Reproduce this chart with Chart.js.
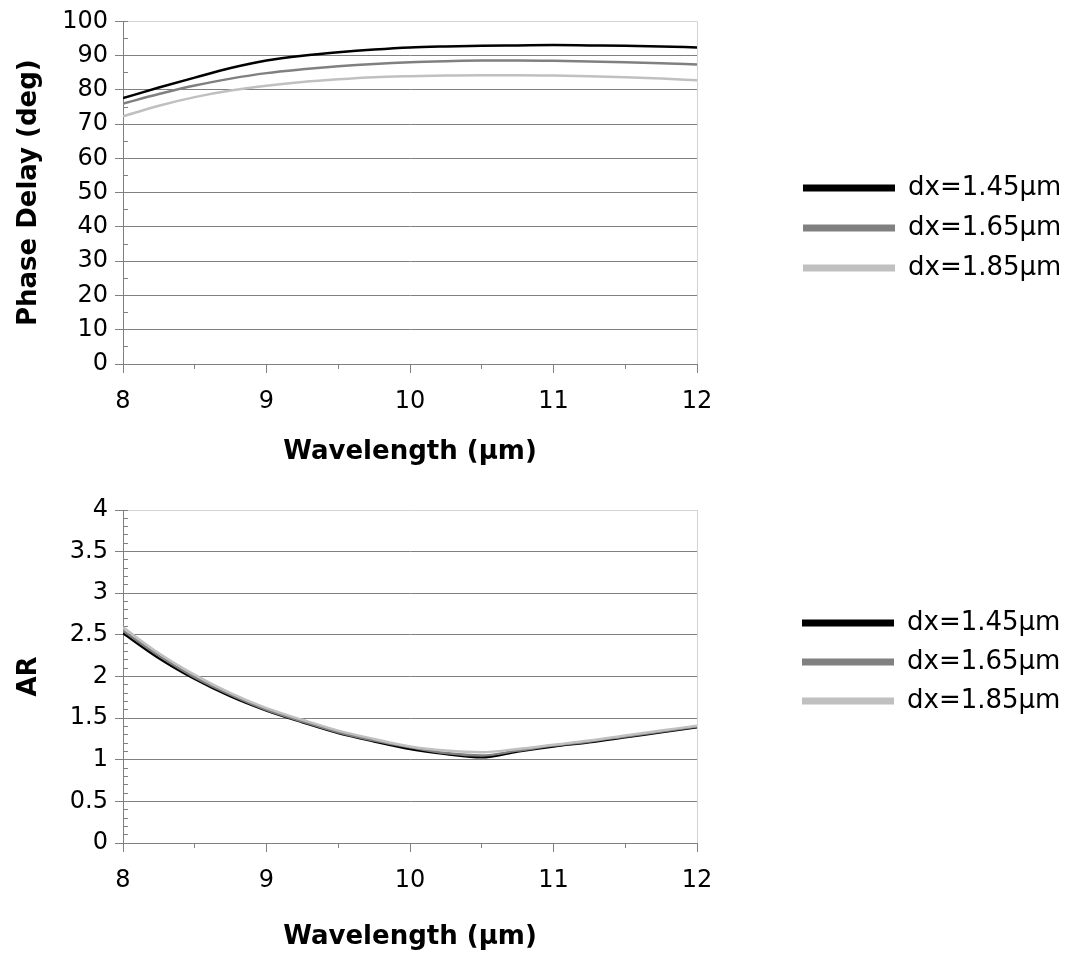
<!DOCTYPE html>
<html>
<head>
<meta charset="utf-8">
<script src="https://cdn.jsdelivr.net/npm/chart.js@4.4.1/dist/chart.umd.min.js"></script>
<style>
html,body{margin:0;padding:0;background:#fff;}
#c1{position:absolute;left:0;top:0;width:1078px;height:480px;}
#c2{position:absolute;left:0;top:480px;width:1078px;height:476px;}
</style>
</head>
<body>
<div id="c1"><canvas id="topChart"></canvas></div>
<div id="c2"><canvas id="botChart"></canvas></div>
<script>
// ---- data ----
const wavelength = [8, 8.25, 8.5, 8.75, 9, 9.25, 9.5, 9.75, 10, 10.25, 10.5, 10.75, 11, 11.25, 11.5, 11.75, 12];
const seriesLabels = ['dx=1.45µm', 'dx=1.65µm', 'dx=1.85µm'];

const phase145 = [77.6, 80.7, 83.6, 86.4, 88.6, 90.0, 91.0, 91.8, 92.4, 92.7, 92.9, 93.0, 93.1, 93.0, 92.9, 92.7, 92.4];
const phase165 = [76.0, 78.8, 81.3, 83.3, 84.9, 86.0, 86.9, 87.6, 88.1, 88.4, 88.6, 88.6, 88.5, 88.3, 88.1, 87.8, 87.4];
const phase185 = [72.3, 75.4, 77.9, 79.8, 81.2, 82.3, 83.1, 83.7, 84.0, 84.2, 84.3, 84.3, 84.2, 84.0, 83.7, 83.3, 82.8];

const ar145 = [2.52, 2.22, 1.97, 1.76, 1.59, 1.45, 1.32, 1.22, 1.13, 1.07, 1.03, 1.10, 1.16, 1.21, 1.27, 1.33, 1.39];
const ar165 = [2.55, 2.25, 1.99, 1.78, 1.60, 1.46, 1.33, 1.23, 1.15, 1.08, 1.05, 1.11, 1.17, 1.22, 1.28, 1.34, 1.40];
const ar185 = [2.59, 2.28, 2.02, 1.80, 1.62, 1.48, 1.35, 1.25, 1.16, 1.11, 1.09, 1.13, 1.18, 1.23, 1.29, 1.35, 1.41];

const xMajorTicks = [8, 9, 10, 11, 12];
const xMinorTicks = [8, 8.5, 9, 9.5, 10, 10.5, 11, 11.5, 12];
const phaseMajorTicks = [0, 10, 20, 30, 40, 50, 60, 70, 80, 90, 100];
const phaseMinorTicks = [0, 5, 10, 15, 20, 25, 30, 35, 40, 45, 50, 55, 60, 65, 70, 75, 80, 85, 90, 95, 100];
const arMajorTicks = [0, 0.5, 1, 1.5, 2, 2.5, 3, 3.5, 4];
const arMinorTicks = [0, 0.1, 0.2, 0.3, 0.4, 0.5, 0.6, 0.7, 0.8, 0.9, 1, 1.1, 1.2, 1.3, 1.4, 1.5, 1.6, 1.7, 1.8, 1.9, 2,
  2.1, 2.2, 2.3, 2.4, 2.5, 2.6, 2.7, 2.8, 2.9, 3, 3.1, 3.2, 3.3, 3.4, 3.5, 3.6, 3.7, 3.8, 3.9, 4];

// ---- styling ----
const FONT = 'DejaVu Sans';
Chart.defaults.font.family = FONT;
Chart.defaults.color = '#000';
const lineColors = ['#000000', '#808080', '#c0c0c0'];
const axisGrey = '#808080';
const borderGrey = '#d4d4d4';

function makeChart(id, o) {
  const datasets = o.series.map((vals, i) => ({
    label: seriesLabels[i],
    data: wavelength.map((w, j) => ({x: w, y: vals[j]})),
    borderColor: lineColors[i],
    backgroundColor: lineColors[i],
    borderWidth: 2.5,
    pointRadius: 0,
    cubicInterpolationMode: 'monotone',
    order: 3 - i
  }));
  return new Chart(document.getElementById(id), {
    type: 'line',
    data: {datasets},
    options: {
      responsive: true,
      maintainAspectRatio: false,
      animation: false,
      events: [],
      layout: {padding: {top: o.padTop, right: 19, bottom: 0, left: 0}},
      plugins: {
        tooltip: {enabled: false},
        legend: {
          position: 'right',
          align: 'start',
          maxWidth: 270,
          title: {display: true, text: '', padding: {top: o.legendTitleH - 10, bottom: 0}, font: {size: 10, lineHeight: 1}},
          labels: {
            boxWidth: 92,
            boxHeight: 7,
            padding: o.legendPad,
            font: {size: 26},
            color: '#000',
            generateLabels: chart => chart.data.datasets.map((d, i) => ({
              text: d.label, fillStyle: d.borderColor, strokeStyle: d.borderColor,
              lineWidth: 0, hidden: false, datasetIndex: i, fontColor: '#000'
            }))
          }
        }
      },
      scales: {
        x: {
          type: 'linear', min: 8, max: 12,
          afterBuildTicks: s => { s.ticks = xMajorTicks.map(v => ({value: v})); },
          ticks: {font: {size: 24}, color: '#000', padding: 14, maxRotation: 0, autoSkip: false,
                  callback: v => String(v)},
          grid: {
            color: c => (c.tick && c.tick.value === 12) ? borderGrey : 'rgba(0,0,0,0)',
            tickColor: axisGrey, tickLength: 9, drawTicks: true
          },
          border: {display: true, color: axisGrey, width: 1},
          title: {display: true, text: 'Wavelength (µm)', font: {size: 26, weight: 'bold'}, color: '#000',
                  padding: {top: 0, bottom: o.xTitlePad}},
          afterFit: s => { s.height = o.xHeight; }
        },
        xMinor: {
          type: 'linear', axis: 'x', position: {y: o.yMin}, min: 8, max: 12,
          afterBuildTicks: s => { s.ticks = xMinorTicks.map(v => ({value: v})); },
          ticks: {display: false},
          grid: {drawOnChartArea: false, drawTicks: true, tickLength: 5, color: axisGrey},
          border: {display: false}
        },
        y: {
          type: 'linear', position: 'left', min: o.yMin, max: o.yMax,
          afterBuildTicks: s => { s.ticks = o.major.map(v => ({value: v})); },
          ticks: {font: {size: 24}, color: '#000', padding: 7, callback: v => String(v)},
          grid: {
            color: c => (c.tick && c.tick.value === o.yMax) ? borderGrey : axisGrey,
            tickColor: axisGrey, tickLength: 8
          },
          border: {display: true, color: axisGrey, width: 1},
          title: {display: true, text: o.yTitle, font: {size: 26, weight: 'bold'}, color: '#000',
                  padding: {top: 14, bottom: 0}},
          afterFit: s => { s.width = 123; }
        },
        yMinor: {
          type: 'linear', axis: 'y', position: {x: 8 + 5 / 143.5}, min: o.yMin, max: o.yMax,
          afterBuildTicks: s => { s.ticks = o.minor.map(v => ({value: v})); },
          ticks: {display: false},
          grid: {drawOnChartArea: false, drawTicks: true, tickLength: 5, color: axisGrey},
          border: {display: false}
        },
        yR: {
          type: 'linear', position: 'right', min: 0, max: 1,
          ticks: {display: false}, grid: {display: false}, border: {display: false},
          afterFit: s => { s.width = 92; }
        }
      }
    }
  });
}

makeChart('topChart', {
  series: [phase145, phase165, phase185],
  yMin: 0, yMax: 100, major: phaseMajorTicks, minor: phaseMinorTicks,
  yTitle: 'Phase Delay (deg)',
  padTop: 20, xHeight: 116, xTitlePad: 12,
  legendTitleH: 141, legendPad: 14
});

makeChart('botChart', {
  series: [ar145, ar165, ar185],
  yMin: 0, yMax: 4, major: arMajorTicks, minor: arMinorTicks,
  yTitle: 'AR',
  padTop: 30, xHeight: 113, xTitlePad: 3,
  legendTitleH: 87, legendPad: 13
});
</script>
</body>
</html>
